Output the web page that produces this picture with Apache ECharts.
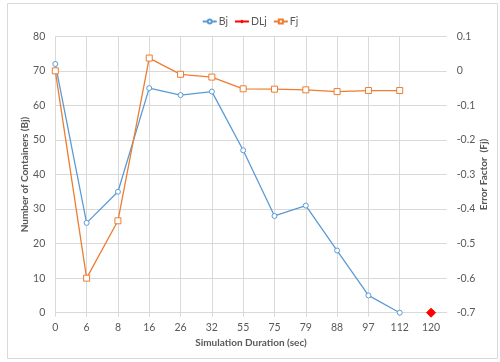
<!DOCTYPE html>
<html><head><meta charset="utf-8">
<script src="https://cdn.jsdelivr.net/npm/echarts@6/dist/echarts.min.js"></script>
<style>html,body{margin:0;padding:0;background:#fff}#c{width:500px;height:362px}</style>
</head><body><div id="c"></div>
<script>
var categories = ['0','6','8','16','26','32','55','75','79','88','97','112','120'];
var bjValues = [72, 26, 35, 65, 63, 64, 47, 28, 31, 18, 5, 0, null];
var dljValues = [null, null, null, null, null, null, null, null, null, null, null, null, -0.7];
var fjValues = [0, -0.6, -0.434, 0.037, -0.01, -0.018, -0.052, -0.053, -0.055, -0.06, -0.057, -0.057, null];
var leftTicks = {min: 0, max: 80, interval: 10};
var rightTicks = {min: -0.7, max: 0.1, interval: 0.1};

function pairs(arr){ return arr.map(function(v,i){ return [i, v]; }); }
var idx = categories.map(function(_,i){ return i; });
var FONT = 'Lato';
var chart = echarts.init(document.getElementById('c'), null, {renderer:'canvas'});
chart.setOption({
  animation: false,
  textStyle: {fontFamily: FONT},
  graphic: [{type:'rect', shape:{x:7.5,y:3.5,width:490,height:355}, style:{fill:'none', stroke:'#d9d9d9', lineWidth:1}}],
  legend: {
    top: 11, left: 'center', itemWidth: 14, itemHeight: 5, itemGap: 6,
    textStyle: {fontFamily: FONT, fontSize: 10.5, color: '#595959', padding: [0,0,0,-3]},
    data: ['Bj','DLj','Fj']
  },
  grid: {left: 55.3, right: 53.3, top: 36.3, bottom: 49.3},
  xAxis: {
    type: 'value', min: 0, max: categories.length - 0.5, interval: 1,
    name: 'Simulation Duration (sec)', nameLocation: 'middle', nameGap: 25, nameMoveOverlap: false,
    nameTextStyle: {fontFamily: FONT, fontSize: 10, fontWeight: 'bold', color: '#595959'},
    axisLine: {lineStyle: {color: '#d9d9d9'}},
    axisTick: {show: true, length: 4, lineStyle: {color: '#d9d9d9'}, customValues: idx},
    axisLabel: {customValues: idx, formatter: function(v){ return categories[v]; }, color: '#595959', fontSize: 10.5, margin: 9},
    splitLine: {show: true, showMaxLine: false, lineStyle: {color: '#d9d9d9'}}
  },
  yAxis: [{
    type: 'value', position: 'left', min: leftTicks.min, max: leftTicks.max, interval: leftTicks.interval,
    name: 'Number of Containers (Bj)', nameLocation: 'middle', nameGap: 26, nameRotate: 90, nameMoveOverlap: false,
    nameTextStyle: {fontFamily: FONT, fontSize: 10, fontWeight: 'bold', color: '#595959'},
    axisLine: {show: false}, axisTick: {show: false},
    axisLabel: {color: '#595959', fontSize: 10.5, margin: 10},
    splitLine: {show: true, lineStyle: {color: '#d9d9d9'}}
  },{
    type: 'value', position: 'right', min: rightTicks.min, max: rightTicks.max, interval: rightTicks.interval,
    name: 'Error Factor  (Fj)', nameLocation: 'middle', nameGap: 32, nameRotate: 90, nameMoveOverlap: false,
    nameTextStyle: {fontFamily: FONT, fontSize: 10, fontWeight: 'bold', color: '#595959'},
    axisLine: {show: false}, axisTick: {show: false},
    axisLabel: {color: '#595959', fontSize: 10.5, margin: 10, formatter: function(v){ return String(Math.round(v*10)/10); }},
    splitLine: {show: false}
  }],
  series: [{
    name: 'Bj', type: 'line', yAxisIndex: 0, data: pairs(bjValues),
    symbol: 'circle', symbolSize: 5, showAllSymbol: true,
    lineStyle: {color: '#5B9BD5', width: 1.3}, itemStyle: {color: '#fff', borderColor: '#5B9BD5', borderWidth: 1}
  },{
    name: 'DLj', type: 'line', yAxisIndex: 1, data: pairs(dljValues),
    symbol: 'diamond', symbolSize: 9,
    lineStyle: {color: '#FF0000', width: 1.3}, itemStyle: {color: '#FF0000', borderColor: '#FF0000'}
  },{
    name: 'Fj', type: 'line', yAxisIndex: 1, data: pairs(fjValues),
    symbol: 'rect', symbolSize: 6,
    lineStyle: {color: '#ED7D31', width: 1.3}, itemStyle: {color: '#fff', borderColor: '#ED7D31', borderWidth: 1}
  }]
});
</script></body></html>
